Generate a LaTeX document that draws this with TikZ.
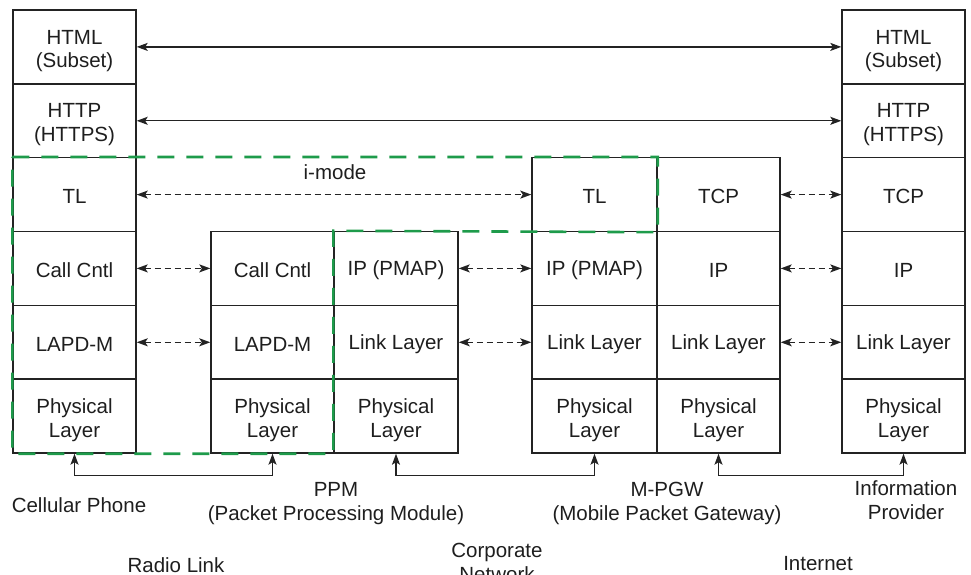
\documentclass[tikz,border=0pt]{standalone}
\usepackage{fontspec}
\setmainfont{Liberation Sans}
\usetikzlibrary{arrows.meta}
\definecolor{linegray}{RGB}{35,35,35}
\definecolor{textgray}{RGB}{30,30,30}
\definecolor{imodegreen}{RGB}{30,155,75}

\begin{document}
\begin{tikzpicture}[x=1pt,y=-1pt,
  layer/.style={draw=linegray, line width=1.4pt, minimum height=73.83pt,
    inner sep=0pt},
  lt/.style={align=center, text=textgray, inner sep=0pt,
    font=\fontsize{20.5}{23.5}\selectfont, yshift=-2pt},
  ltt/.style={lt, yshift=-2pt},
  w1/.style={minimum width=123pt},
  w2/.style={minimum width=124pt},
  w3/.style={minimum width=125pt},
  caption/.style={align=center, text=textgray, inner sep=0pt, anchor=base,
    font=\fontsize{20.5}{23.5}\selectfont},
  tip/.style={{Stealth[length=11pt,width=8pt,inset=2.5pt]}-{Stealth[length=11pt,width=8pt,inset=2.5pt]}},
  peer/.style={tip, draw=linegray, line width=1.4pt},
  dpeer/.style={tip, draw=linegray, line width=1.5pt, dash pattern=on 6pt off 4pt},
  link/.style={tip, draw=linegray, line width=1.4pt},
  imode/.style={draw=imodegreen, line width=2.6pt, dash pattern=on 17pt off 12pt}
]
\useasboundingbox (0,0) rectangle (971,575);

% Cellular phone stack
\node[layer,w1,label={[ltt]center:{HTML\\(Subset)}}]  (ph-html) at (74.5,46.9)  {};
\node[layer,w1,label={[ltt]center:{HTTP\\(HTTPS)}}]   (ph-http) at (74.5,120.8) {};
\node[layer,w1,label={[lt]center:TL}]                 (ph-tl)   at (74.5,194.6) {};
\node[layer,w1,label={[lt]center:Call Cntl}]          (ph-cc)   at (74.5,268.4) {};
\node[layer,w1,label={[lt]center:LAPD-M}]             (ph-lapd) at (74.5,342.3) {};
\node[layer,w1,label={[ltt]center:{Physical\\Layer}}] (ph-phy)  at (74.5,416.1) {};

% PPM, radio side
\node[layer,w1,label={[lt]center:Call Cntl}]          (pr-cc)   at (272.5,268.4) {};
\node[layer,w1,label={[lt]center:LAPD-M}]             (pr-lapd) at (272.5,342.3) {};
\node[layer,w1,label={[ltt]center:{Physical\\Layer}}] (pr-phy)  at (272.5,416.1) {};

% PPM, network side
\node[layer,w2,label={[lt]center:IP (PMAP)}]          (pn-ip)   at (396,268.4) {};
\node[layer,w2,label={[lt]center:Link Layer}]         (pn-link) at (396,342.3) {};
\node[layer,w2,label={[ltt]center:{Physical\\Layer}}] (pn-phy)  at (396,416.1) {};

% M-PGW, corporate side
\node[layer,w3,label={[lt]center:TL}]                 (gc-tl)   at (594.5,194.6) {};
\node[layer,w3,label={[lt]center:IP (PMAP)}]          (gc-ip)   at (594.5,268.4) {};
\node[layer,w3,label={[lt]center:Link Layer}]         (gc-link) at (594.5,342.3) {};
\node[layer,w3,label={[ltt]center:{Physical\\Layer}}] (gc-phy)  at (594.5,416.1) {};

% M-PGW, internet side
\node[layer,w1,label={[lt]center:TCP}]                (gi-tcp)  at (718.5,194.6) {};
\node[layer,w1,label={[lt]center:IP}]                 (gi-ip)   at (718.5,268.4) {};
\node[layer,w1,label={[lt]center:Link Layer}]         (gi-link) at (718.5,342.3) {};
\node[layer,w1,label={[ltt]center:{Physical\\Layer}}] (gi-phy)  at (718.5,416.1) {};

% Information provider stack
\node[layer,w1,label={[ltt]center:{HTML\\(Subset)}}]  (ip-html) at (903.5,46.9)  {};
\node[layer,w1,label={[ltt]center:{HTTP\\(HTTPS)}}]   (ip-http) at (903.5,120.8) {};
\node[layer,w1,label={[lt]center:TCP}]                (ip-tcp)  at (903.5,194.6) {};
\node[layer,w1,label={[lt]center:IP}]                 (ip-ip)   at (903.5,268.4) {};
\node[layer,w1,label={[lt]center:Link Layer}]         (ip-link) at (903.5,342.3) {};
\node[layer,w1,label={[ltt]center:{Physical\\Layer}}] (ip-phy)  at (903.5,416.1) {};

% end-to-end peers
\draw[peer] (ph-html.east) -- (ip-html.west);
\draw[peer] (ph-http.east) -- (ip-http.west);

% hop-by-hop peers
\draw[dpeer] (ph-tl.east)   -- (gc-tl.west);
\draw[dpeer] (ph-cc.east)   -- (pr-cc.west);
\draw[dpeer] (ph-lapd.east) -- (pr-lapd.west);
\draw[dpeer] (pn-ip.east)   -- (gc-ip.west);
\draw[dpeer] (pn-link.east) -- (gc-link.west);
\draw[dpeer] (gi-tcp.east)  -- (ip-tcp.west);
\draw[dpeer] (gi-ip.east)   -- (ip-ip.west);
\draw[dpeer] (gi-link.east) -- (ip-link.west);

% physical links
\draw[link] (ph-phy.south) -- ++(0,22) -| (pr-phy.south);
\draw[link] (pn-phy.south) -- ++(0,22) -| (gc-phy.south);
\draw[link] (gi-phy.south) -- ++(0,22) -| (ip-phy.south);

% i-mode domain
\draw[imode] (ph-tl.north west) -- (gc-tl.north east) -- (gc-tl.south east)
  -- (pn-ip.north west) -- (pn-phy.south west) -- (ph-phy.south west) -- cycle;
\node[caption] (imode-label) at (335,179) {i-mode};

% element names (base = last line)
\node[caption] (cap-phone) at (79,512)  {Cellular Phone};
\node[caption] (cap-ppm)   at (336,520) {PPM\\(Packet Processing Module)};
\node[caption] (cap-mpgw)  at (667,520) {M-PGW\\(Mobile Packet Gateway)};
\node[caption] (cap-info)  at (906,519) {Information\\Provider};

% network names; the second line runs off the lower edge
\node[caption] (cap-radio) at (176,572) {Radio Link};
\node[caption] (cap-corp)  at (497,581) {Corporate\\Network};
\node[caption] (cap-inet)  at (818,570) {Internet};
\end{tikzpicture}
\end{document}
